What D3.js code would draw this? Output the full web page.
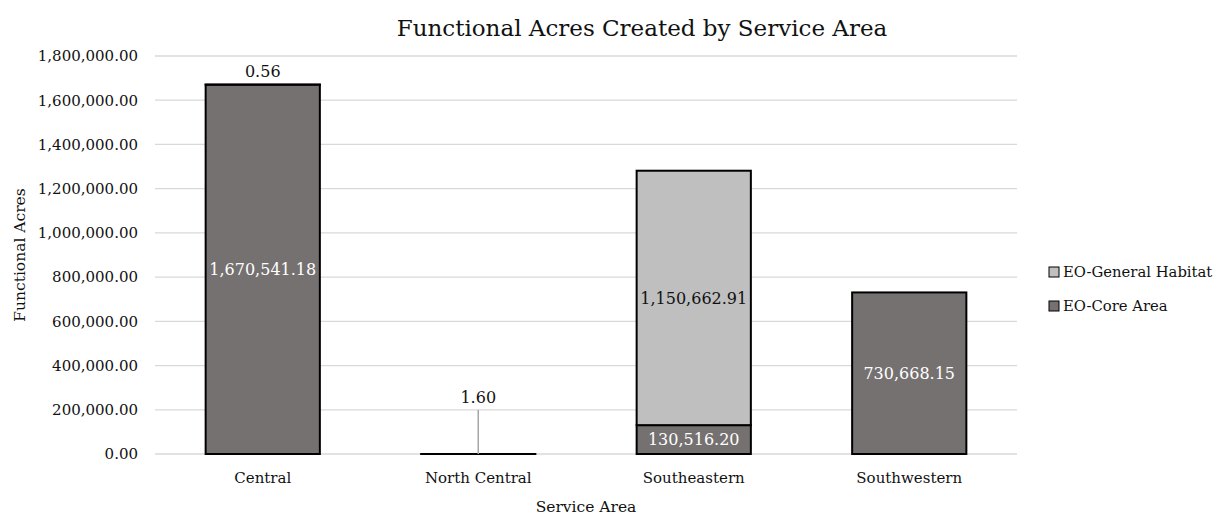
<!DOCTYPE html>
<html><head><meta charset="utf-8">
<script src="https://cdn.jsdelivr.net/npm/d3@7"></script>
<style>body{margin:0;background:#fff;} text{font-family:"DejaVu Serif",serif;}</style>
</head><body>
<svg id="c" width="1220" height="516"></svg>
<script>
const categories = ["Central", "North Central", "Southeastern", "Southwestern"];
const coreArea = [1670541.18, 0, 130516.20, 730668.15];
const generalHabitat = [0.56, 1.60, 1150662.91, 0];
const yTicks = [0, 200000, 400000, 600000, 800000, 1000000, 1200000, 1400000, 1600000, 1800000];
const seriesNames = ["EO-Core Area", "EO-General Habitat"];
const colors = {"EO-Core Area": "#767171", "EO-General Habitat": "#BFBFBF"};

const svg = d3.select("#c");
const m = {l:155, r:1017, t:56, b:454};
const x = d3.scaleBand().domain(categories).range([m.l, m.r]).paddingInner(0.47).paddingOuter(0.235);
const y = d3.scaleLinear().domain([0, 1800000]).range([m.b, m.t]);
const fmt = d3.format(",.2f");

// gridlines
svg.append("g").selectAll("line").data(yTicks).join("line")
  .attr("x1", m.l).attr("x2", m.r).attr("y1", d=>y(d)).attr("y2", d=>y(d))
  .attr("stroke", "#D9D9D9").attr("stroke-width", 1.3);

// y axis labels
const yAxis = d3.axisLeft(y).tickValues(yTicks).tickFormat(fmt).tickSize(0).tickPadding(17);
const ga = svg.append("g").attr("transform", `translate(${m.l},0)`).call(yAxis);
ga.select(".domain").remove();
ga.selectAll("text").attr("font-family","DejaVu Serif").attr("font-size", 15).attr("fill", "#111");

// x axis
const xAxis = d3.axisBottom(x).tickSize(0).tickPadding(18);
const gx = svg.append("g").attr("transform", `translate(0,${m.b})`).call(xAxis);
gx.select(".domain").remove();
gx.selectAll("text").attr("font-family","DejaVu Serif").attr("font-size", 15).attr("fill", "#111");

// stacked data
const rows = categories.map((c,i)=>({cat:c, "EO-Core Area":coreArea[i], "EO-General Habitat":generalHabitat[i]}));
const stack = d3.stack().keys(seriesNames)(rows);

const bars = svg.append("g");
stack.forEach(s=>{
  bars.selectAll(null).data(s).join("rect")
    .attr("x", d=>x(d.data.cat)).attr("width", x.bandwidth())
    .attr("y", d=>y(d[1])).attr("height", d=>Math.max(0, y(d[0])-y(d[1])))
    .attr("fill", colors[s.key])
    .attr("stroke", "#000").attr("stroke-width", 2)
    .attr("display", d=> (d[1]-d[0]) > 0 || (s.key==="EO-Core Area" && d.data.cat==="North Central") ? null : "none");
});

// data labels
const lab = svg.append("g").attr("font-size", 16).attr("text-anchor","middle");
stack.forEach(s=>{
  s.forEach(d=>{
    const v = d[1]-d[0];
    if (v <= 0) return;
    const cx = x(d.data.cat) + x.bandwidth()/2;
    const h = y(d[0]) - y(d[1]);
    if (h > 20) {
      lab.append("text").attr("x", cx).attr("y", (y(d[0])+y(d[1]))/2).attr("dy","0.35em")
        .attr("fill", s.key==="EO-Core Area" ? "#fff" : "#111").text(fmt(v));
    } else if (d.data.cat === "Central") {
      lab.append("text").attr("x", cx).attr("y", y(d[1]) - 8).attr("fill","#111").text(fmt(v));
    } else {
      // leader line label
      const ly = y(d[1]) - 51;
      lab.append("line").attr("x1", cx).attr("x2", cx).attr("y1", ly+7).attr("y2", y(d[1]))
        .attr("stroke", "#A6A6A6").attr("stroke-width", 1.5);
      lab.append("text").attr("x", cx).attr("y", ly).attr("fill","#111").text(fmt(v));
    }
  });
});

// title
svg.append("text").attr("x", 642).attr("y", 36).attr("text-anchor","middle")
  .attr("font-size", 23).attr("fill","#111").text("Functional Acres Created by Service Area");
// axis titles
svg.append("text").attr("x", (m.l+m.r)/2).attr("y", 512).attr("text-anchor","middle")
  .attr("font-size", 15.5).attr("fill","#111").text("Service Area");
svg.append("text").attr("transform", `translate(25,${(m.t+m.b)/2}) rotate(-90)`).attr("text-anchor","middle")
  .attr("font-size", 15.5).attr("fill","#111").text("Functional Acres");

// legend
const leg = svg.append("g").attr("transform","translate(1049,0)");
["EO-General Habitat","EO-Core Area"].forEach((k,i)=>{
  const yy = 272 + i*34;
  leg.append("rect").attr("x",0).attr("y",yy-5).attr("width",10).attr("height",10)
    .attr("fill", colors[k]).attr("stroke","#000").attr("stroke-width",1);
  leg.append("text").attr("x",14).attr("y",yy).attr("dy","0.35em").attr("font-size",14.8).attr("fill","#111").text(k);
});
</script>
</body></html>
